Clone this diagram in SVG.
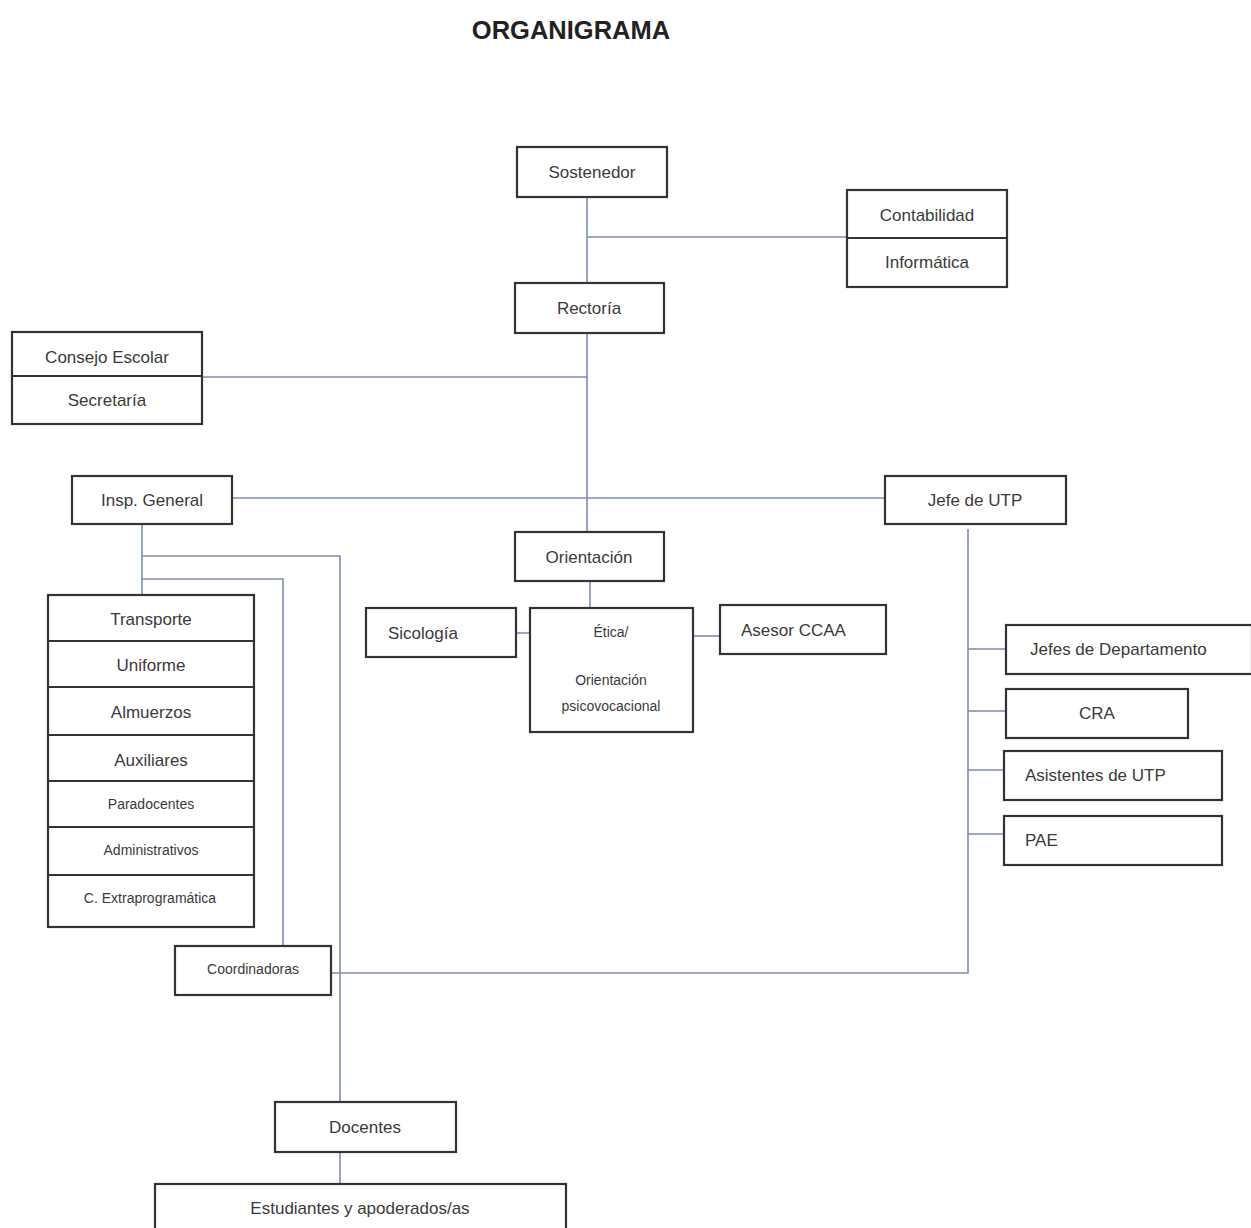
<svg xmlns="http://www.w3.org/2000/svg" width="1251" height="1228" viewBox="0 0 1251 1228">
<style>
.box{fill:#fff;stroke:#333;stroke-width:2.2}
.div{stroke:#333;stroke-width:2.2}
.t{font-family:"Liberation Sans",Arial,sans-serif;font-size:17px;fill:#3a3a3a;text-anchor:middle;dominant-baseline:central}
.s{font-size:14px}
.l{text-anchor:start}
.c{stroke:#7d8db5;stroke-width:1.6;fill:none}
</style>
<rect width="1251" height="1228" fill="#fff"/>
<text x="571" y="30" style="font-family:'Liberation Sans',Arial,sans-serif;font-size:25.5px;font-weight:bold;fill:#222;text-anchor:middle;dominant-baseline:central">ORGANIGRAMA</text>
<g id="connectors" class="c">
<path d="M587 197V283"/>
<path d="M587 237H847"/>
<path d="M587 333V532"/>
<path d="M202 377H588"/>
<path d="M232 498H885"/>
<path d="M590 581V608"/>
<path d="M516 633H530"/>
<path d="M693 636H720"/>
<path d="M142 524V595"/>
<path d="M142 556H340V1102"/>
<path d="M142 579H283V946"/>
<path d="M331 973H968V529"/>
<path d="M968 649H1006"/>
<path d="M968 711H1006"/>
<path d="M968 770H1004"/>
<path d="M968 834H1004"/>
<path d="M340 1152V1184"/>
</g>
<g id="sostenedor"><rect class="box" x="517" y="147" width="150" height="50"/><text class="t" x="592" y="172">Sostenedor</text></g>
<g id="contabilidad"><rect class="box" x="847" y="190" width="160" height="97"/><line class="div" x1="847" y1="238" x2="1007" y2="238"/><text class="t" x="927" y="215">Contabilidad</text><text class="t" x="927" y="262">Informática</text></g>
<g id="rectoria"><rect class="box" x="515" y="283" width="149" height="50"/><text class="t" x="589" y="308">Rectoría</text></g>
<g id="consejo"><rect class="box" x="12" y="332" width="190" height="92"/><line class="div" x1="12" y1="376" x2="202" y2="376"/><text class="t" x="107" y="357">Consejo Escolar</text><text class="t" x="107" y="400">Secretaría</text></g>
<g id="insp-general"><rect class="box" x="72" y="476" width="160" height="48"/><text class="t" x="152" y="500">Insp. General</text></g>
<g id="jefe-utp"><rect class="box" x="885" y="476" width="181" height="48"/><text class="t" x="975" y="500">Jefe de UTP</text></g>
<g id="orientacion"><rect class="box" x="515" y="532" width="149" height="49"/><text class="t" x="589" y="557">Orientación</text></g>
<g id="sicologia"><rect class="box" x="366" y="608" width="150" height="49"/><text class="t l" x="388" y="633">Sicología</text></g>
<g id="etica"><rect class="box" x="530" y="608" width="163" height="124"/><text class="t s" x="611" y="632">Ética/</text><text class="t s" x="611" y="680">Orientación</text><text class="t s" x="611" y="706">psicovocacional</text></g>
<g id="asesor"><rect class="box" x="720" y="605" width="166" height="49"/><text class="t l" x="741" y="630">Asesor CCAA</text></g>
<g id="stack">
<rect class="box" x="48" y="595" width="206" height="332"/>
<line class="div" x1="48" y1="641" x2="254" y2="641"/>
<line class="div" x1="48" y1="687" x2="254" y2="687"/>
<line class="div" x1="48" y1="735" x2="254" y2="735"/>
<line class="div" x1="48" y1="781" x2="254" y2="781"/>
<line class="div" x1="48" y1="827" x2="254" y2="827"/>
<line class="div" x1="48" y1="875" x2="254" y2="875"/>
<text class="t" x="151" y="619">Transporte</text>
<text class="t" x="151" y="665">Uniforme</text>
<text class="t" x="151" y="712">Almuerzos</text>
<text class="t" x="151" y="760">Auxiliares</text>
<text class="t s" x="151" y="804">Paradocentes</text>
<text class="t s" x="151" y="850">Administrativos</text>
<text class="t s" x="150" y="898">C. Extraprogramática</text>
</g>
<g id="coordinadoras"><rect class="box" x="175" y="946" width="156" height="49"/><text class="t s" x="253" y="969">Coordinadoras</text></g>
<g id="jefes-depto"><rect class="box" x="1006" y="625" width="246" height="49"/><text class="t l" x="1030" y="649">Jefes de Departamento</text></g>
<g id="cra"><rect class="box" x="1006" y="689" width="182" height="49"/><text class="t" x="1097" y="713">CRA</text></g>
<g id="asistentes"><rect class="box" x="1004" y="751" width="218" height="49"/><text class="t l" x="1025" y="775">Asistentes de UTP</text></g>
<g id="pae"><rect class="box" x="1004" y="816" width="218" height="49"/><text class="t l" x="1025" y="840">PAE</text></g>
<g id="docentes"><rect class="box" x="275" y="1102" width="181" height="50"/><text class="t" x="365" y="1127">Docentes</text></g>
<g id="estudiantes"><rect class="box" x="155" y="1184" width="411" height="60"/><text class="t" x="360" y="1208">Estudiantes y apoderados/as</text></g>
</svg>
